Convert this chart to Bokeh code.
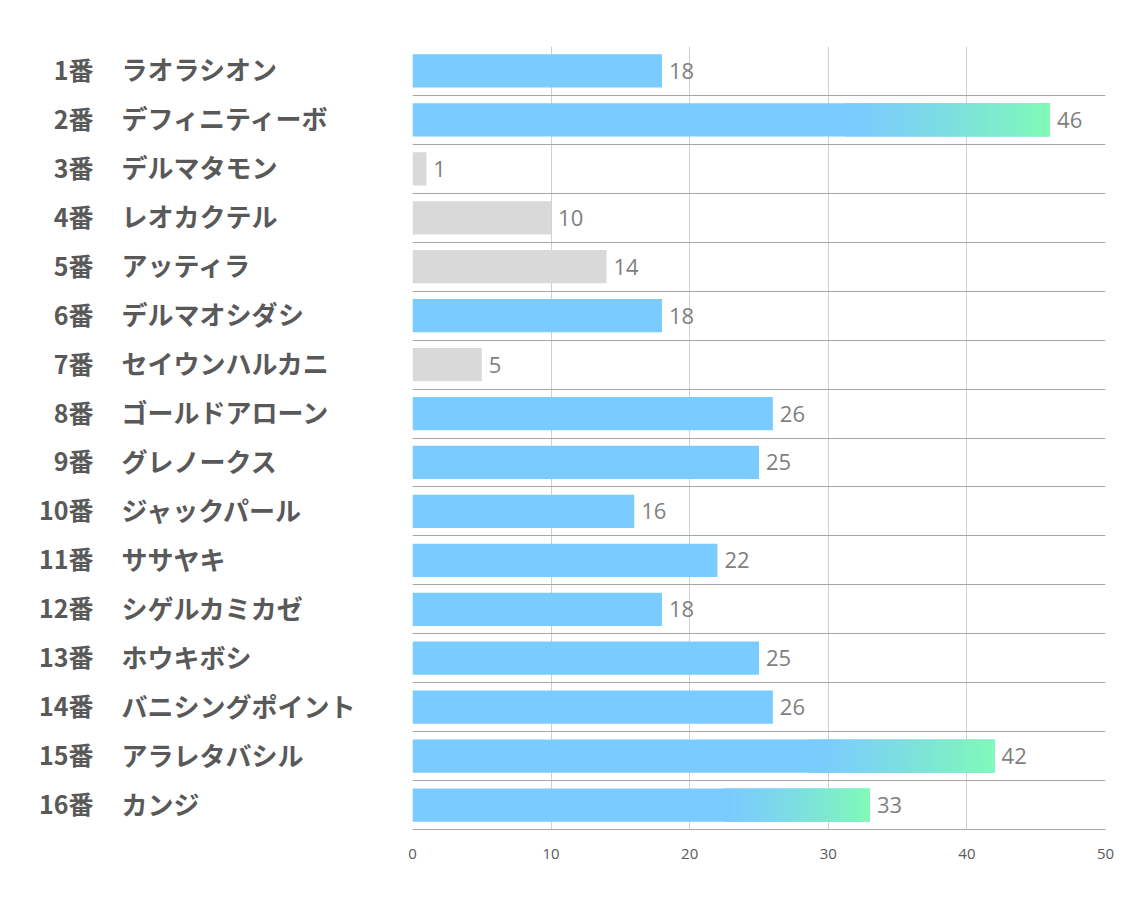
from bokeh.plotting import figure
from bokeh.layouts import row
from bokeh.models import ColumnDataSource, Range1d, FixedTicker, LabelSet
from bokeh.core.properties import value
from bokeh.embed import file_html
from bokeh.resources import INLINE

numbers = ["1番", "2番", "3番", "4番", "5番", "6番", "7番", "8番",
           "9番", "10番", "11番", "12番", "13番", "14番", "15番", "16番"]
names = ["ラオラシオン", "デフィニティーボ", "デルマタモン", "レオカクテル", "アッティラ",
         "デルマオシダシ", "セイウンハルカニ", "ゴールドアローン", "グレノークス",
         "ジャックパール", "ササヤキ", "シゲルカミカゼ", "ホウキボシ",
         "バニシングポイント", "アラレタバシル", "カンジ"]
values = [18, 46, 1, 10, 14, 18, 5, 26, 25, 16, 22, 18, 25, 26, 42, 33]
x_ticks = [0, 10, 20, 30, 40, 50]

BLUE = (122, 203, 255)
GREEN = (128, 250, 182)
GRAY = "#D9D9D9"

rows = list(range(1, len(values) + 1))
sorted_vals = sorted(values)
low_cut = sorted_vals[3]       # lowest four shown grey
high_cut = sorted_vals[-3]     # top three get gradient

def hexc(c):
    return "#%02x%02x%02x" % tuple(int(round(v)) for v in c)

colors = [GRAY if v <= low_cut else hexc(BLUE) for v in values]

yr = Range1d(16.5, 0.5)
H = 898
TOP = 46
BOT = 69

# ---- left label panel ----
LW = 404
lp = figure(width=LW, height=H, output_backend="svg", toolbar_location=None,
            x_range=Range1d(0, LW), y_range=yr)
lp.min_border_left = 0
lp.min_border_right = 0
lp.min_border_top = TOP
lp.min_border_bottom = BOT
lp.outline_line_color = None
lp.axis.visible = False
lp.grid.visible = False
lsrc = ColumnDataSource(dict(y=rows, num=numbers, name=names,
                             xn=[93] * len(rows), xm=[121] * len(rows)))
lp.text(x="xn", y="y", text="num", source=lsrc, text_align="right",
        text_baseline="middle", y_offset=-2, text_font=value("Noto Sans CJK JP"),
        text_font_style="bold", text_font_size="25px", text_color="#595959")
lp.text(x="xm", y="y", text="name", source=lsrc, text_align="left",
        text_baseline="middle", y_offset=-2, text_font=value("Noto Sans CJK JP"),
        text_font_style="bold", text_font_size="26px", text_color="#595959")

# ---- main chart ----
p = figure(width=1126 - LW, height=H, output_backend="svg", toolbar_location=None,
           x_range=Range1d(0, 50), y_range=yr)
p.min_border_left = 8
p.min_border_right = 21
p.min_border_top = TOP
p.min_border_bottom = BOT
p.outline_line_color = None

src = ColumnDataSource(dict(y=rows, v=values, c=colors, vt=[str(v) for v in values]))
p.hbar(y="y", left=0, right="v", height=0.68, fill_color="c", line_color=None, source=src)

# gradient overlay for the top three bars
N = 60
gl, gr, gy, gc = [], [], [], []
for r, v in zip(rows, values):
    if v >= high_cut:
        start = 0.68 * v
        step = (v - start) / N
        for i in range(N):
            t = ((i + 0.5) / N) ** 1.25
            col = tuple(BLUE[k] + (GREEN[k] - BLUE[k]) * t for k in range(3))
            gl.append(start + i * step)
            gr.append(min(v, start + (i + 1) * step + 0.03))
            gy.append(r)
            gc.append(hexc(col))
p.hbar(y=gy, left=gl, right=gr, height=0.68, fill_color=gc, line_color=None)

# axes / grids
p.yaxis.visible = False
p.ygrid.ticker = FixedTicker(ticks=[i + 0.5 for i in range(0, 17)])
p.ygrid.grid_line_color = "#A6A6A6"
p.ygrid.grid_line_width = 1
p.xgrid.ticker = FixedTicker(ticks=x_ticks)
p.xgrid.grid_line_color = "#D0D0D0"
p.xaxis.ticker = FixedTicker(ticks=x_ticks)
p.xaxis.axis_line_color = "#A6A6A6"
p.xaxis.major_tick_line_color = None
p.xaxis.minor_tick_line_color = None
p.xaxis.major_label_text_font = "Open Sans"
p.xaxis.major_label_text_font_size = "15px"
p.xaxis.major_label_text_color = "#595959"
p.xaxis.major_label_standoff = 13

# value labels
p.add_layout(LabelSet(x="v", y="y", text="vt", source=src, x_offset=7,
                      text_align="left", text_baseline="middle",
                      text_font=value("Open Sans"), text_font_size="22px",
                      text_color="#7F7F7F"))

layout = row(lp, p, spacing=0)
open("out.html", "w").write(file_html(layout, INLINE))
